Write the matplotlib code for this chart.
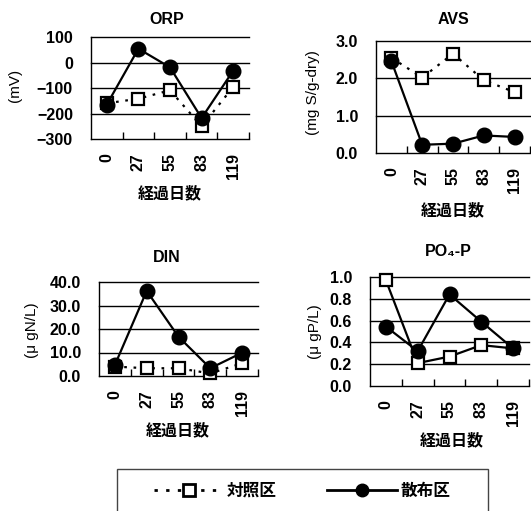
import numpy as np
import matplotlib
matplotlib.use('Agg')
import matplotlib.pyplot as plt
from matplotlib.lines import Line2D
from matplotlib.patches import Rectangle

plt.rcParams['font.family'] = ['Liberation Sans', 'Noto Sans CJK JP', 'DejaVu Sans']

days = ['0', '27', '55', '83', '119']

# 対照区 (control) / 散布区 (treated)
orp_ctrl = [-160, -142, -109, -250, -96]
orp_treat = [-165, 54, -19, -218, -32]
avs_ctrl = [2.55, 2.02, 2.66, 1.95, 1.63]
avs_treat = [2.46, 0.22, 0.25, 0.47, 0.43]
din_ctrl = [4.0, 3.3, 3.3, 1.1, 5.4]
din_treat = [4.7, 36.2, 16.7, 3.3, 9.9]
po4_ctrl = [0.97, 0.21, 0.27, 0.375, 0.345]
po4_treat = [0.545, 0.32, 0.84, 0.59, 0.345]

W, H = 531, 511
fig = plt.figure(figsize=(W / 100, H / 100), dpi=100)

DOT = (0, (1.2, 3))
FS = 11.5


def panel(box, title, title_xy, ylabel, ylab_xy, xlab_xy, ctrl, treat,
          ylim, yticks, yfmt, ctrl_ls):
    l, t, r, b = box
    ax = fig.add_axes([l / W, 1 - b / H, (r - l) / W, (b - t) / H])
    x = np.arange(len(days))
    for v in yticks[1:]:
        ax.axhline(v, color='black', lw=1, zorder=1, clip_on=False)
    ax.plot(x, ctrl, ls=ctrl_ls, color='black', lw=1.6, marker='s', ms=9,
            mfc='white', mec='black', mew=1.6, zorder=3, clip_on=False)
    ax.plot(x, treat, ls='-', color='black', lw=1.6, marker='o', ms=10.5,
            mfc='black', mec='black', zorder=4, clip_on=False)
    ax.set_xlim(-0.5, 4.5)
    ax.set_ylim(*ylim)
    ax.set_yticks(yticks)
    ax.set_yticklabels([yfmt.format(v).replace('-', '−') for v in yticks],
                       fontweight='bold', fontsize=FS)
    ax.tick_params(axis='y', length=0, pad=13)
    ax.set_xticks(x)
    ax.set_xticklabels(days, rotation=90, fontweight='bold', fontsize=FS)
    ax.set_xticks(np.arange(0.5, 5, 1), minor=True)
    ax.tick_params(axis='x', which='major', length=0, pad=10)
    ax.tick_params(axis='x', which='minor', direction='in', length=5, width=1)
    ax.spines['top'].set_visible(False)
    ax.spines['right'].set_visible(False)
    ax.spines['left'].set_linewidth(1)
    ax.spines['bottom'].set_linewidth(1)
    fig.text(ylab_xy[0] / W, 1 - ylab_xy[1] / H, ylabel, fontsize=11,
             rotation=90, ha='center', va='center')
    fig.text(title_xy[0] / W, 1 - title_xy[1] / H, title, fontsize=FS,
             fontweight='bold', ha='center', va='center')
    fig.text(xlab_xy[0] / W, 1 - xlab_xy[1] / H, '経過日数', fontsize=FS,
             fontweight='bold', ha='center', va='center')
    return ax


panel((91, 37, 249, 139), 'ORP', (167, 20), '(mV)', (15, 85), (170, 193),
      orp_ctrl, orp_treat, (-300, 100), [-300, -200, -100, 0, 100], '{:.0f}', DOT)
panel((376, 41, 530, 153), 'AVS', (453, 20), '(mg S/g-dry)', (313, 93), (453, 210),
      avs_ctrl, avs_treat, (0, 3), [0, 1, 2, 3], '{:.1f}', DOT)
panel((99, 282, 258, 376), 'DIN', (167, 257), '(μ gN/L)', (32, 330), (178, 430),
      din_ctrl, din_treat, (0, 40), [0, 10, 20, 30, 40], '{:.1f}', DOT)
panel((370, 277, 529, 386), 'PO₄-P', (448, 252), '(μ gP/L)', (315, 332), (452, 440),
      po4_ctrl, po4_treat, (0, 1.0), [0, 0.2, 0.4, 0.6, 0.8, 1.0], '{:.1f}', '-')

# legend box
fig.patches.append(Rectangle((117 / W, 1 - 520 / H), (488 - 117) / W, (520 - 469) / H,
                             transform=fig.transFigure, fill=False,
                             edgecolor='#444444', lw=1))
handles = [
    Line2D([], [], ls=DOT, color='black', lw=2, marker='s', ms=9,
           mfc='white', mec='black', mew=2),
    Line2D([], [], ls='-', color='black', lw=2, marker='o', ms=9,
           mfc='black', mec='black'),
]
fig.legend(handles, ['対照区', '散布区'], loc='center', ncol=2,
           bbox_to_anchor=(302 / W, 1 - 491 / H), frameon=False,
           handlelength=4.2, handletextpad=0.2, columnspacing=3,
           prop={'weight': 'bold', 'size': 12})

fig.savefig('out.png', dpi=100)
